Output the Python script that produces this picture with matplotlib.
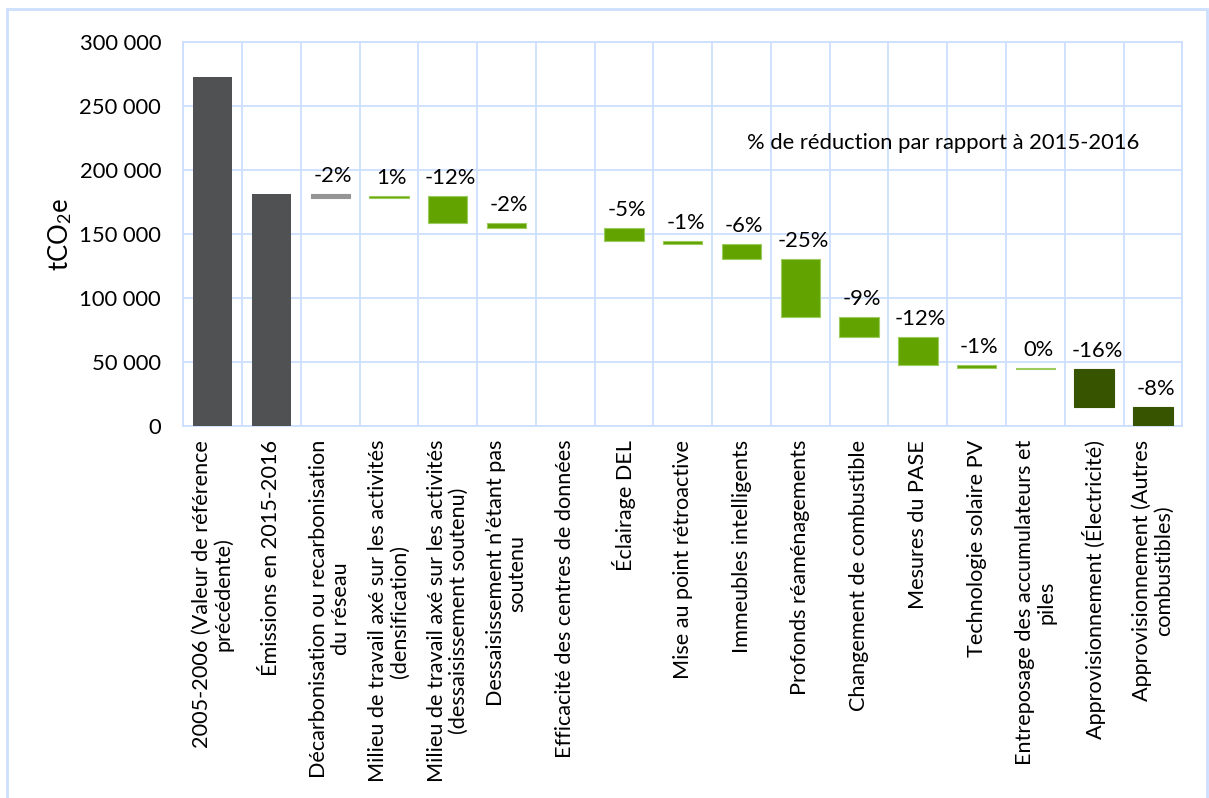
import numpy as np
import matplotlib
matplotlib.use("Agg")
import matplotlib.pyplot as plt
from matplotlib.ticker import FuncFormatter, MultipleLocator
from matplotlib.patches import Rectangle

# ---- data (tCO2e) ----
categories = [
    "2005-2006 (Valeur de référence\nprécédente)",
    "Émissions en 2015-2016",
    "Décarbonisation ou recarbonisation\ndu réseau",
    "Milieu de travail axé sur les activités\n(densification)",
    "Milieu de travail axé sur les activités\n(dessaisissement soutenu)",
    "Dessaisissement n’étant pas\nsoutenu",
    "Efficacité des centres de données",
    "Éclairage DEL",
    "Mise au point rétroactive",
    "Immeubles intelligents",
    "Profonds réaménagements",
    "Changement de combustible",
    "Mesures du PASE",
    "Technologie solaire PV",
    "Entreposage des accumulateurs et\npiles",
    "Approvisionnement (Électricité)",
    "Approvisionnement (Autres\ncombustibles)",
]
baseline_2005 = 272900
emissions_2016 = 181300
changes = [-2800, 1100, -21200, -3900, 0, -9800, -2400, -11500,
           -45300, -16100, -21900, -2400, -800, -29500, -14800]
change_kind = ["grid", "measure", "measure", "measure", "measure", "measure",
               "measure", "measure", "measure", "measure", "measure",
               "measure", "measure", "supply", "supply"]
pct_labels = ["-2%", "1%", "-12%", "-2%", "", "-5%", "-1%", "-6%", "-25%",
              "-9%", "-12%", "-1%", "0%", "-16%", "-8%"]
note = "% de réduction par rapport à 2015-2016"

# ---- style ----
plt.rcParams["font.family"] = ["Lato", "DejaVu Sans"]
plt.rcParams["mathtext.fontset"] = "custom"
plt.rcParams["mathtext.rm"] = "Lato"
plt.rcParams["mathtext.it"] = "Lato:italic"
FS = 15.8
FS_CAT = 15.6
FS_YLAB = 18.5
GRID = "#CCDFFE"
DARK_GREY = "#505153"
fills = {"grid": "#959595", "measure": "#62A300", "supply": "#375400"}
edges = {"grid": "#959595", "measure": "#9CCB5E", "supply": "#375400"}
BAR_W = 0.67

fig = plt.figure(figsize=(12.09, 7.98), dpi=100)
ax = fig.add_axes([0.1516, 0.4662, 0.8263, 0.4808])

x = np.arange(len(categories))

# totals
ax.bar(x[:2], [baseline_2005, emissions_2016], width=BAR_W, color=DARK_GREY,
       zorder=3)

# floating changes
running = emissions_2016
for i, (d, kind, lab) in enumerate(zip(changes, change_kind, pct_labels)):
    start, end = running, running + d
    running = end
    xi = x[i + 2]
    if d != 0:
        ax.bar(xi, abs(d), bottom=min(start, end), width=BAR_W,
               color=fills[kind], edgecolor=edges[kind], linewidth=0.8,
               zorder=3)
    if lab:
        ax.annotate(lab, (xi, max(start, end)), xytext=(2, 13),
                    textcoords="offset points", ha="center", va="center",
                    fontsize=FS, color="black", zorder=4)

ax.text(0.761, 0.7376, note, transform=ax.transAxes, ha="center",
        va="center", fontsize=FS, color="black")

# axes
ax.set_xlim(-0.5, len(categories) - 0.5)
ax.set_ylim(0, 300000)
ax.yaxis.set_major_locator(MultipleLocator(50000))
ax.yaxis.set_major_formatter(
    FuncFormatter(lambda v, p: f"{v:,.0f}".replace(",", " ")))
ax.set_xticks(x)
ax.set_xticklabels(categories, rotation=90, ha="center", va="top",
                   multialignment="center", linespacing=1.1,
                   fontsize=FS_CAT)
ax.set_xticks(np.arange(-0.5, len(categories), 1), minor=True)
ax.tick_params(axis="both", which="both", length=0)
ax.tick_params(axis="x", pad=10)
ax.tick_params(axis="y", pad=16, labelsize=FS)
ax.grid(axis="x", which="minor", color=GRID, linewidth=1.3)
ax.grid(axis="y", which="major", color=GRID, linewidth=1.3)
ax.set_axisbelow(True)
for s in ax.spines.values():
    s.set_color(GRID)
    s.set_linewidth(1.3)

fig.text(60 / 1209, 1 - 234 / 798, r"tCO$_2$e", rotation=90, ha="center",
         va="center", fontsize=FS_YLAB)

# outer frame
fig.patches.append(Rectangle((7 / 1209, -0.05), 1200 / 1209, 1.0387,
                             transform=fig.transFigure, fill=False,
                             edgecolor=GRID, linewidth=2))

fig.savefig("out.png", dpi=100)
